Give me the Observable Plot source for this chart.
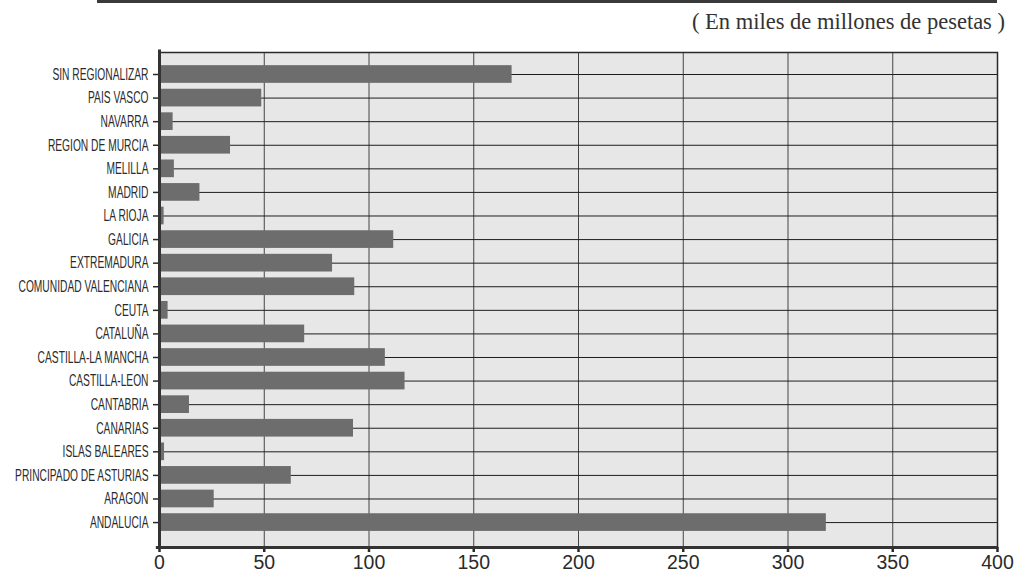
<!DOCTYPE html>
<html>
<head>
<meta charset="utf-8">
<script src="https://cdn.jsdelivr.net/npm/d3@7"></script>
<script src="https://cdn.jsdelivr.net/npm/@observablehq/plot@0.6"></script>
<style>
  html, body { margin: 0; padding: 0; background: #ffffff; }
  #wrap { position: relative; width: 1017px; height: 577px; overflow: hidden; }
  #topline { position: absolute; left: 97px; top: 0px; width: 900px; height: 3px; background: #3a3a3a; }
  #subtitle { position: absolute; right: 12px; top: 9px; font-family: "Liberation Serif", "DejaVu Serif", serif; font-size: 22.5px; color: #333; white-space: nowrap; }
  #chart { position: absolute; left: 0; top: 40px; }
</style>
</head>
<body>
<div id="wrap">
  <div id="topline"></div>
  <div id="subtitle">( En miles de millones de pesetas )</div>
  <div id="chart"></div>
</div>
<script>
const regions = [
  "SIN REGIONALIZAR", "PAIS VASCO", "NAVARRA", "REGION DE MURCIA", "MELILLA",
  "MADRID", "LA RIOJA", "GALICIA", "EXTREMADURA", "COMUNIDAD VALENCIANA",
  "CEUTA", "CATALUÑA", "CASTILLA-LA MANCHA", "CASTILLA-LEON", "CANTABRIA",
  "CANARIAS", "ISLAS BALEARES", "PRINCIPADO DE ASTURIAS", "ARAGON", "ANDALUCIA"
];
const values = [
  168.3, 48.8, 6.5, 33.9, 7.1,
  19.3, 2.2, 111.8, 82.6, 93.2,
  4.1, 69.3, 107.8, 117.2, 14.3,
  92.6, 2.4, 62.9, 26.1, 318.3
];
const xTicks = [0, 50, 100, 150, 200, 250, 300, 350, 400];

const data = regions.map((r, i) => ({region: r, value: values[i]}));

const dims = {
  width: 1017,
  height: 537,
  marginLeft: 159,
  marginRight: 20,
  marginTop: 12,
  marginBottom: 30
};

const chart = Plot.plot({
  ...dims,
  style: {background: "transparent", overflow: "visible"},
  x: {domain: [0, 400], ticks: xTicks, label: null},
  y: {domain: regions, label: null, round: false, paddingOuter: 0.62, paddingInner: 0.25, align: 0.45},
  marks: [
    Plot.frame({fill: "#e7e7e7", stroke: null}),
    Plot.ruleX(xTicks.slice(1), {stroke: "#444", strokeWidth: 1}),
    Plot.ruleY(regions, {y: d => d, x1: 0, x2: 400, stroke: "#1e1e1e", strokeWidth: 1}),
    Plot.barX(data, {y: "region", x: "value", fill: "#6d6d6d"}),
    Plot.frame({stroke: "#2a2a2a", strokeWidth: 1.5}),
    Plot.axisY({
      tickSize: 6, tickPadding: 5, stroke: "#2a2a2a", strokeWidth: 1.5,
      fontSize: 16.5, fill: "#2a2a2a",
      fontFamily: "'Liberation Sans', Arial, sans-serif"
    }),
    Plot.axisX({
      ticks: xTicks, tickSize: 5, tickPadding: 3, stroke: "#2a2a2a", strokeWidth: 2.5,
      fontSize: 19.5, fill: "#2a2a2a",
      fontFamily: "'Liberation Sans', Arial, sans-serif"
    })
  ]
});
document.getElementById("chart").appendChild(chart);

// condense y-axis labels to mimic the narrow typeface of the original
d3.select(chart).selectAll("g[aria-label='y-axis tick label'] text").each(function () {
  const w = this.getComputedTextLength();
  this.setAttribute("textLength", (w * 0.62).toFixed(1));
  this.setAttribute("lengthAdjust", "spacingAndGlyphs");
});

// thick axis lines
const overlay = Plot.plot({
  ...dims,
  style: {background: "transparent", position: "absolute", left: "0px", top: "0px"},
  x: {domain: [0, 400], axis: null},
  y: {domain: [0, 1], axis: null},
  marks: [
    Plot.ruleY([0], {x1: -1.5, x2: 400, stroke: "#333", strokeWidth: 3}),
    Plot.ruleX([0], {y1: -0.004, y2: 1.005, stroke: "#333", strokeWidth: 3})
  ]
});
document.getElementById("chart").appendChild(overlay);
</script>
</body>
</html>
